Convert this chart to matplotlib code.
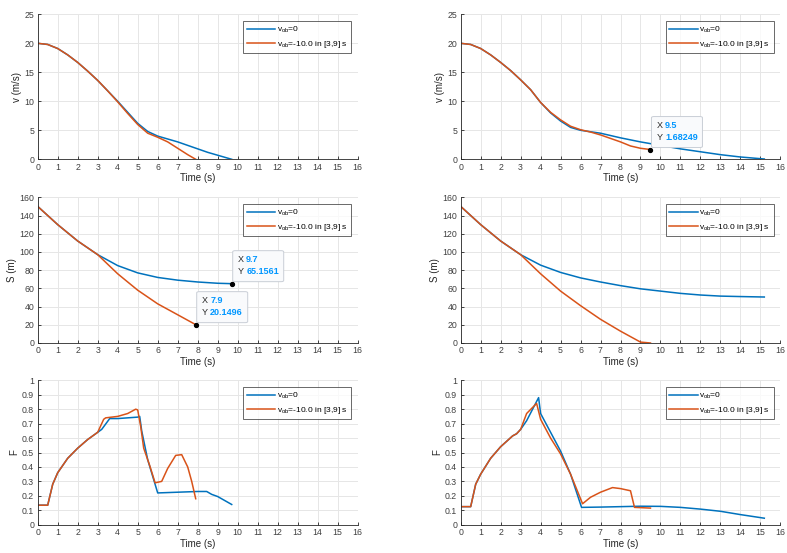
import matplotlib
matplotlib.use("Agg")
import matplotlib.pyplot as plt
from matplotlib.patches import FancyBboxPatch
import matplotlib.ticker as mticker

plt.rcParams['font.family'] = ['Liberation Sans', 'DejaVu Sans']
plt.rcParams['mathtext.fontset'] = 'custom'
plt.rcParams['mathtext.rm'] = 'Liberation Sans'
plt.rcParams['mathtext.it'] = 'Liberation Sans'

BLUE = '#0072BD'
ORANGE = '#D95319'
TIPBLUE = '#0096FF'
AXC = '#262626'

# ---- top-left: velocity ----
v1_t_blue = [0, 0.5, 1, 1.5, 2, 2.5, 3, 3.5, 4, 4.5, 5, 5.5, 6, 6.5, 7, 7.5, 8, 8.5, 9, 9.7]
v1_blue = [20, 19.8, 19.1, 18.0, 16.7, 15.2, 13.6, 11.8, 10.0, 8.1, 6.2, 4.8, 4.0, 3.5, 3.0, 2.4, 1.8, 1.2, 0.7, 0.0]
v1_t_or = [0, 0.5, 1, 1.5, 2, 2.5, 3, 3.5, 4, 4.5, 5, 5.5, 6, 6.5, 7, 7.5, 7.9]
v1_or = [20, 19.8, 19.1, 18.0, 16.7, 15.2, 13.6, 11.8, 9.9, 7.9, 6.0, 4.5, 3.8, 3.0, 1.9, 0.8, 0.0]

# ---- top-right: velocity ----
v2_t_blue = [0, 0.5, 1, 1.5, 2, 2.5, 3, 3.5, 4, 4.5, 5, 5.5, 6, 7, 8, 9, 10, 11, 12, 13, 14, 15.2]
v2_blue = [20, 19.8, 19.1, 18.0, 16.7, 15.3, 13.7, 12.0, 9.8, 8.0, 6.6, 5.5, 5.0, 4.5, 3.7, 3.0, 2.4, 1.8, 1.3, 0.8, 0.4, 0.05]
v2_t_or = [0, 0.5, 1, 1.5, 2, 2.5, 3, 3.5, 4, 4.5, 5, 5.5, 6, 6.5, 7, 7.5, 8, 8.5, 9, 9.5]
v2_or = [20, 19.8, 19.1, 18.0, 16.7, 15.3, 13.7, 12.0, 9.8, 8.1, 6.8, 5.7, 5.1, 4.7, 4.2, 3.6, 3.0, 2.3, 1.9, 1.68249]

# ---- middle-left: distance ----
s1_t_blue = [0, 1, 2, 3, 4, 5, 6, 7, 8, 9, 9.7]
s1_blue = [150, 130, 112, 97, 85, 77, 72, 69, 67, 65.6, 65.1561]
s1_t_or = [0, 1, 2, 3, 4, 5, 6, 7, 7.9]
s1_or = [150, 130, 112, 97, 76, 58, 43, 31, 20.1496]

# ---- middle-right: distance ----
s2_t_blue = [0, 1, 2, 3, 4, 5, 6, 7, 8, 9, 10, 11, 12, 13, 14, 15.2]
s2_blue = [150, 130, 112, 97, 85.5, 77.5, 71.5, 67, 63, 59.5, 57, 54.5, 52.7, 51.5, 51, 50.5]
s2_t_or = [0, 1, 2, 3, 4, 5, 6, 7, 8, 9, 9.5]
s2_or = [150, 130, 112, 97, 76, 57, 41, 26, 13, 1, 0]

# ---- bottom-left: F ----
f1_t_blue = [0, 0.5, 0.75, 1, 1.5, 2, 2.5, 3, 3.2, 3.6, 4, 5, 5.1, 5.2, 5.5, 6.0, 7, 8, 8.45, 8.7, 9, 9.7]
f1_blue = [0.135, 0.135, 0.28, 0.36, 0.46, 0.53, 0.59, 0.64, 0.66, 0.735, 0.735, 0.745, 0.75, 0.65, 0.45, 0.22, 0.225, 0.23, 0.23, 0.21, 0.195, 0.14]
f1_t_or = [0, 0.5, 0.75, 1, 1.5, 2, 2.5, 3, 3.3, 3.4, 4, 4.5, 4.9, 5.0, 5.15, 5.3, 5.6, 5.87, 6.2, 6.5, 6.9, 7.2, 7.5, 7.7, 7.9]
f1_or = [0.135, 0.135, 0.28, 0.36, 0.46, 0.53, 0.59, 0.64, 0.73, 0.74, 0.75, 0.77, 0.80, 0.795, 0.68, 0.53, 0.41, 0.29, 0.30, 0.39, 0.48, 0.485, 0.40, 0.30, 0.18]

# ---- bottom-right: F ----
f2_t_blue = [0, 0.5, 0.75, 1, 1.5, 2, 2.6, 2.8, 3, 3.3, 3.9, 4, 4.5, 5, 5.5, 6.05, 7, 8, 9, 10, 11, 12, 13, 14, 15.2]
f2_blue = [0.125, 0.125, 0.28, 0.35, 0.46, 0.54, 0.615, 0.63, 0.66, 0.72, 0.88, 0.77, 0.64, 0.51, 0.35, 0.12, 0.122, 0.125, 0.128, 0.127, 0.12, 0.108, 0.093, 0.07, 0.045]
f2_t_or = [0, 0.5, 0.75, 1, 1.5, 2, 2.6, 2.8, 3, 3.3, 3.8, 4, 4.5, 5, 5.5, 6.1, 6.5, 7, 7.6, 8, 8.5, 8.7, 9.5]
f2_or = [0.125, 0.125, 0.28, 0.35, 0.46, 0.54, 0.615, 0.63, 0.66, 0.77, 0.84, 0.73, 0.60, 0.49, 0.35, 0.145, 0.19, 0.225, 0.257, 0.25, 0.235, 0.12, 0.115]

leg_labels = [r'v$_{\mathrm{ob}}$=0', r'v$_{\mathrm{ob}}$=-10.0 in [3,9] s']
xticks = list(range(0, 17))

fig = plt.figure(figsize=(7.87, 5.53), dpi=100)
W, H = 787, 553
PT = 72.0 / 100.0  # points per pixel


def make_ax(left_px, top_px, right_px, bottom_px):
    return fig.add_axes([left_px / W, 1 - bottom_px / H, (right_px - left_px) / W, (bottom_px - top_px) / H])


cols = [(37.7, 357.7), (460.7, 780.3)]
rows = [(14.3, 159.3), (197.3, 343.0), (380.3, 524.7)]

axes = {}
for r in range(3):
    for c in range(2):
        axes[(r, c)] = make_ax(cols[c][0], rows[r][0], cols[c][1], rows[r][1])


def style(ax, ylim, yticks, ylabel):
    ax.set_xlim(0, 16)
    ax.set_ylim(*ylim)
    ax.set_xticks(xticks)
    ax.set_yticks(yticks)
    ax.yaxis.set_major_formatter(mticker.FuncFormatter(lambda v, p: f'{v:g}'))
    ax.grid(True, color='#e6e6e6', lw=0.7)
    ax.set_axisbelow(True)
    for s in ['top', 'right']:
        ax.spines[s].set_visible(False)
    for s in ['left', 'bottom']:
        ax.spines[s].set_color(AXC)
        ax.spines[s].set_linewidth(0.6)
    ax.tick_params(direction='in', length=2.5, width=0.6, colors=AXC, labelsize=6.3, pad=2.5)
    for lab in ax.get_xticklabels() + ax.get_yticklabels():
        lab.set_color('#404040')
    ax.set_xlabel('Time (s)', fontsize=7, color=AXC, labelpad=1)
    ax.set_ylabel(ylabel, fontsize=7, color=AXC, labelpad=2)
    leg = ax.legend(leg_labels, loc='upper right', fontsize=6, frameon=True, fancybox=False,
                    edgecolor=AXC, borderaxespad=0.8, handlelength=3.4,
                    labelspacing=0.45, borderpad=0.45, handletextpad=0.2)
    leg.get_frame().set_linewidth(0.6)


def tip(ax, x, y, xtxt, ytxt):
    ax.plot([x], [y], 'o', color='black', ms=2.8, zorder=8, clip_on=False)
    disp = ax.transData.transform((x, y))
    inv = ax.transAxes.inverted()
    p0 = inv.transform((disp[0] + 1, disp[1] + 2))
    p1 = inv.transform((disp[0] + 52, disp[1] + 33))
    box = FancyBboxPatch((p0[0], p0[1]), p1[0] - p0[0], p1[1] - p0[1],
                         boxstyle='round,pad=0,rounding_size=0.008',
                         transform=ax.transAxes, facecolor='#f9fafc', edgecolor='#c9ced6',
                         lw=0.7, zorder=6, clip_on=False)
    ax.add_patch(box)
    kw = dict(xy=(x, y), textcoords='offset points', va='center', ha='left', fontsize=6.5,
              zorder=7, annotation_clip=False)
    ax.annotate('X', xytext=(6 * PT, 24 * PT), color=AXC, **kw)
    ax.annotate(xtxt, xytext=(14.5 * PT, 24 * PT), color=TIPBLUE, fontweight='bold', **kw)
    ax.annotate('Y', xytext=(6 * PT, 12 * PT), color=AXC, **kw)
    ax.annotate(ytxt, xytext=(14.5 * PT, 12 * PT), color=TIPBLUE, fontweight='bold', **kw)


series = [
    ((0, 0), v1_t_blue, v1_blue, v1_t_or, v1_or, (0, 25), [0, 5, 10, 15, 20, 25], 'v (m/s)'),
    ((0, 1), v2_t_blue, v2_blue, v2_t_or, v2_or, (0, 25), [0, 5, 10, 15, 20, 25], 'v (m/s)'),
    ((1, 0), s1_t_blue, s1_blue, s1_t_or, s1_or, (0, 160), list(range(0, 161, 20)), 'S (m)'),
    ((1, 1), s2_t_blue, s2_blue, s2_t_or, s2_or, (0, 160), list(range(0, 161, 20)), 'S (m)'),
    ((2, 0), f1_t_blue, f1_blue, f1_t_or, f1_or, (0, 1), [round(0.1 * i, 1) for i in range(11)], 'F'),
    ((2, 1), f2_t_blue, f2_blue, f2_t_or, f2_or, (0, 1), [round(0.1 * i, 1) for i in range(11)], 'F'),
]

for key, tb, yb, to, yo, ylim, yt, yl in series:
    a = axes[key]
    a.plot(tb, yb, color=BLUE, lw=1.1)
    a.plot(to, yo, color=ORANGE, lw=1.1)
    style(a, ylim, yt, yl)

fig.canvas.draw()
tip(axes[(0, 1)], v2_t_or[-1], v2_or[-1], '9.5', '1.68249')
tip(axes[(1, 0)], s1_t_blue[-1], s1_blue[-1], '9.7', '65.1561')
tip(axes[(1, 0)], s1_t_or[-1], s1_or[-1], '7.9', '20.1496')

fig.savefig('out.png', dpi=100)
